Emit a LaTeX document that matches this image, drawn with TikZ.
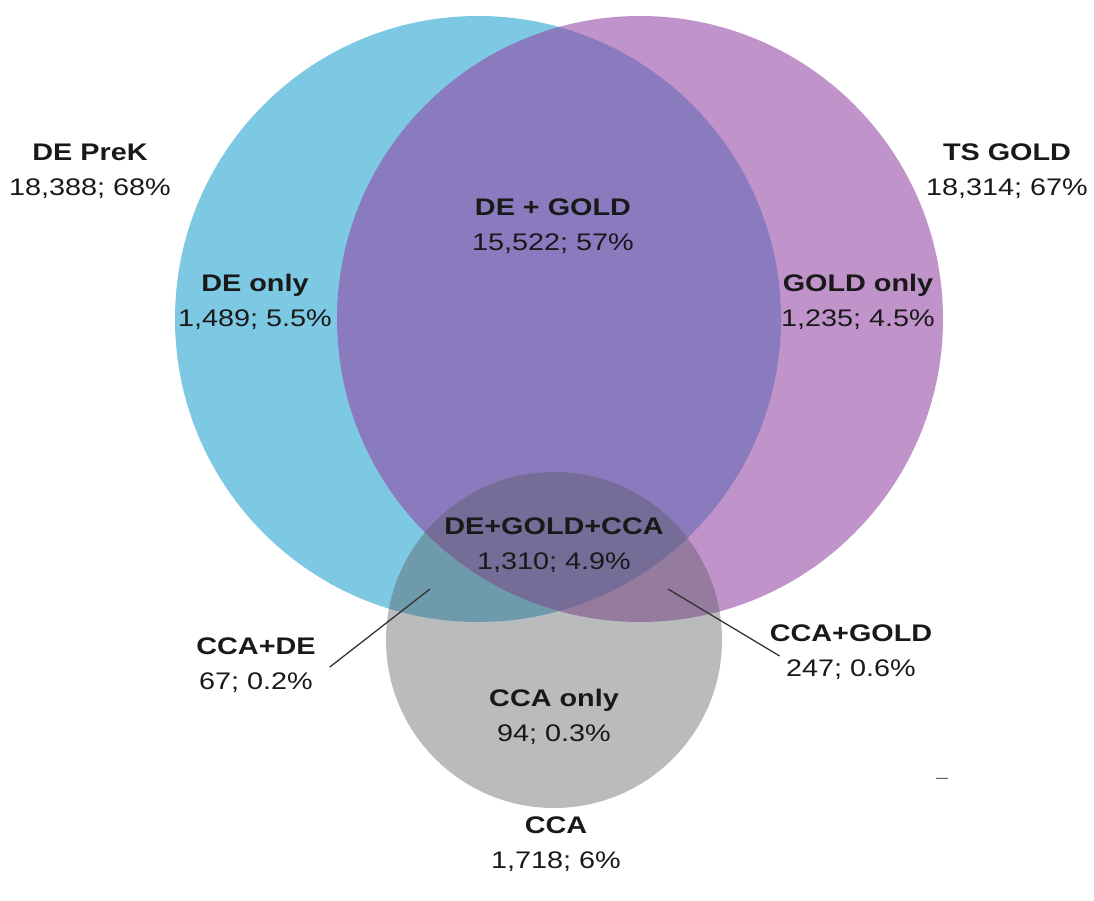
\documentclass[tikz,border=0pt]{standalone}
\usepackage{fontspec}
\setmainfont[FakeStretch=1.2]{Liberation Sans}
\definecolor{deblue}{RGB}{125,200,227}
\definecolor{goldpurple}{RGB}{148,69,165}
\definecolor{ccagrey}{RGB}{90,92,98}

\begin{document}
\begin{tikzpicture}[
            x=1pt, y=-1pt,
            font=\fontsize{24}{35}\selectfont,
            vn de/.style    ={fill=deblue},
            vn gold/.style  ={fill=goldpurple, fill opacity=0.58},
            vn cca/.style   ={fill=ccagrey, fill opacity=0.42},
            vn label/.style ={align=center, inner sep=2pt, text=black!90},
            vn lead/.style  ={line width=1.3pt, draw=black!80}
        ]
        \useasboundingbox (0,0) rectangle (1094,901);
        %% --- the three sets ----------------------------------------------------
        \fill[vn de]   (478,319) circle[radius=303pt];
        \fill[vn gold] (640,319) circle[radius=303pt];
        \fill[vn cca]  (554,640) circle[radius=168pt];
        %% --- set totals, outside the circles -----------------------------------
        \node[vn label] (dePreK) at (90,171)   {\textbf{DE PreK}\\18,388; 68\%};
        \node[vn label] (tsGold) at (1007,171) {\textbf{TS GOLD}\\18,314; 67\%};
        \node[vn label] (ccaSet) at (556,844)  {\textbf{CCA}\\1,718; 6\%};
        %% --- regions -------------------------------------------------------------
        \node[vn label] (deGold)   at (553,226) {\textbf{DE + GOLD}\\15,522; 57\%};
        \node[vn label] (deOnly)   at (255,302) {\textbf{DE only}\\1,489; 5.5\%};
        \node[vn label] (goldOnly) at (858,302) {\textbf{GOLD only}\\1,235; 4.5\%};
        \node[vn label] (allThree) at (554,545) {\textbf{DE+GOLD+CCA}\\1,310; 4.9\%};
        \node[vn label] (ccaOnly)  at (554,717) {\textbf{CCA only}\\94; 0.3\%};
        \node[vn label] (ccaDe)    at (256,665) {\textbf{CCA+DE}\\67; 0.2\%};
        \node[vn label] (ccaGold)  at (851,652) {\textbf{CCA+GOLD}\\247; 0.6\%};
        \node[text=black!60, inner sep=0pt] (stray) at (942,781) {\fontsize{18}{20}\selectfont\textendash};
        %% --- leaders into the small overlaps -------------------------------------
        \coordinate (ccaDeTip)   at (430,589);
        \coordinate (ccaGoldTip) at (668,589);
        \draw[vn lead] ([xshift=12pt,yshift=-2pt]ccaDe.east) -- (ccaDeTip);
        \draw[vn lead] ([xshift=12pt,yshift=-4pt]ccaGold.west) -- (ccaGoldTip);
    \end{tikzpicture}
\end{document}
